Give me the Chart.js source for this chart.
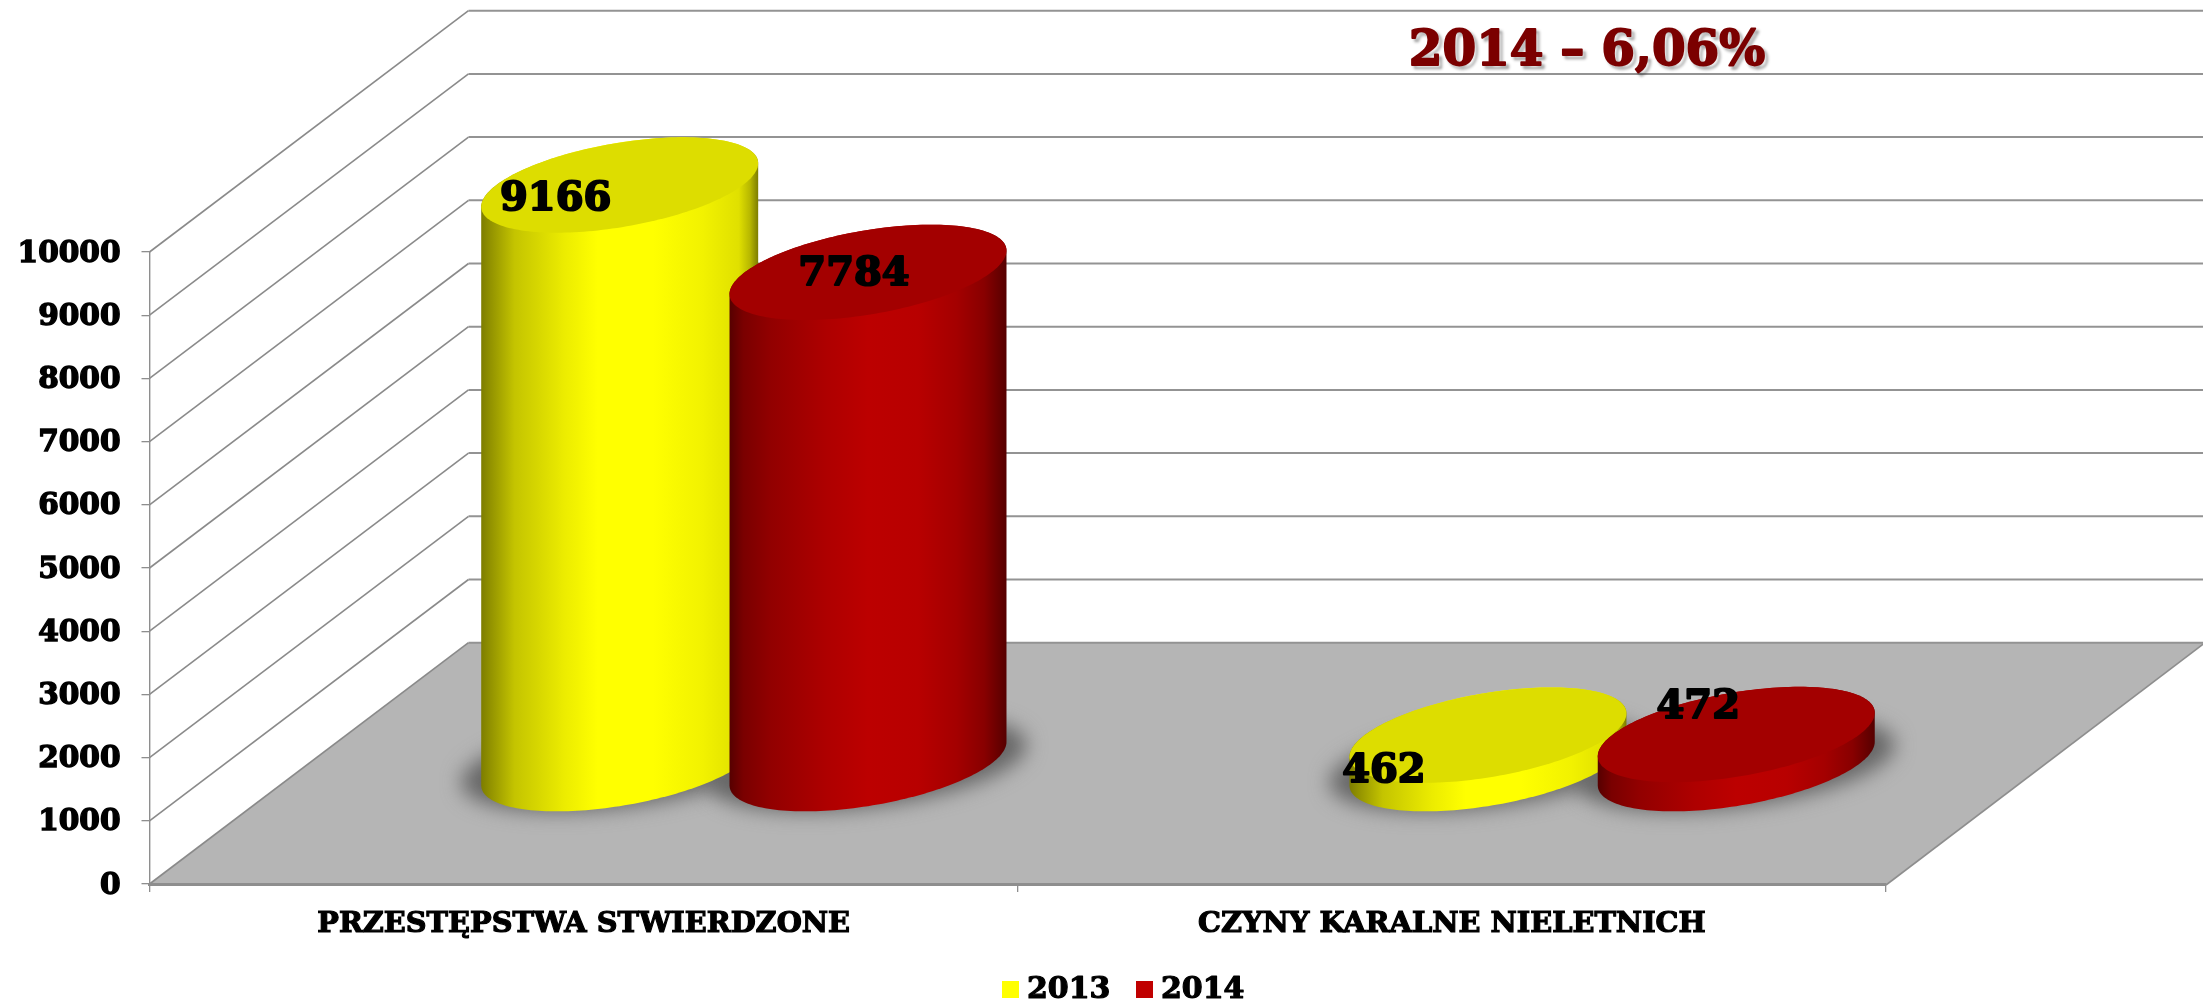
<!DOCTYPE html>
<html>
<head>
<meta charset="utf-8">
<style>html,body{margin:0;padding:0;background:#fff}canvas{display:block}</style>
<script src="https://cdn.jsdelivr.net/npm/chart.js@4"></script>
</head>
<body>
<canvas id="c" width="2203" height="1001"></canvas>
<script>
const categories = ['PRZESTĘPSTWA STWIERDZONE', 'CZYNY KARALNE NIELETNICH'];
const series2013 = [9166, 462];
const series2014 = [7784, 472];
const seriesNames = ['2013', '2014'];
const annotationText = '2014 – 6,06%';

const FONT = '"DejaVu Serif"';
const DEPTH = {dx: 319, dy: 241.3};      // oblique projection of the floor
const RADIUS = 0.1977;                   // cylinder depth radius, as share of floor depth
const FILL_CENTRE = 0.496;
// value label shifts from the cylinder's top centre, per dataset / category
const LABEL_SHIFT = [[[-64, 15], [-104, 36]], [[-14, 2], [-38, -27]]];
const STYLES = [
  {top: '#dddd00', stops: [[0,'#7d7d00'],[.03,'#909000'],[.12,'#c4c400'],[.3,'#ecec00'],[.42,'#ffff00'],[.62,'#ffff00'],[.8,'#f2f200'],[.93,'#e0e000'],[.97,'#b8b800'],[1,'#7d7d00']]},
  {top: '#a30000', stops: [[0,'#560000'],[.05,'#7a0000'],[.15,'#920000'],[.35,'#ae0000'],[.5,'#bc0000'],[.68,'#b80000'],[.82,'#a40000'],[.92,'#880000'],[1,'#560000']]}
];

function ellipsePoint(cx, cy, a, t) {
  return [cx + a * Math.cos(t) + RADIUS * DEPTH.dx * Math.sin(t), cy - RADIUS * DEPTH.dy * Math.sin(t)];
}
function traceEllipse(ctx, cx, cy, a) {
  ctx.beginPath();
  for (let i = 0; i < 180; i++) {
    const p = ellipsePoint(cx, cy, a, i / 180 * 2 * Math.PI);
    i ? ctx.lineTo(p[0], p[1]) : ctx.moveTo(p[0], p[1]);
  }
  ctx.closePath();
}
function cylinders(chart, fn) {
  chart.data.datasets.forEach((ds, d) => {
    chart.getDatasetMeta(d).data.forEach((bar, i) => {
      const cx = bar.x + FILL_CENTRE * DEPTH.dx + 2;
      const baseY = bar.base - FILL_CENTRE * DEPTH.dy;
      const topY = bar.y - FILL_CENTRE * DEPTH.dy;
      fn({d, i, cx, baseY, topY, a: bar.width / 2, value: ds.data[i]});
    });
  });
}

const room = {
  id: 'room',
  beforeDraw(chart) {
    const {ctx, scales: {x, y}} = chart;
    const l = x.left, r = x.right, b = y.getPixelForValue(0);
    ctx.save();
    ctx.fillStyle = '#b5b5b5';
    ctx.beginPath();
    ctx.moveTo(l, b); ctx.lineTo(r, b + 1);
    ctx.lineTo(r + DEPTH.dx, b - DEPTH.dy); ctx.lineTo(l + DEPTH.dx, b - DEPTH.dy);
    ctx.closePath(); ctx.fill();
    ctx.strokeStyle = '#8e8e8e';
    ctx.lineWidth = 1.6;
    ctx.beginPath();
    ctx.moveTo(r, b + 1); ctx.lineTo(r + DEPTH.dx, b - DEPTH.dy);
    ctx.stroke();
    y.ticks.forEach(t => {
      const py = y.getPixelForValue(t.value);
      ctx.strokeStyle = '#8a8a8a';
      ctx.lineWidth = 1.6;
      ctx.beginPath();
      ctx.moveTo(l, py); ctx.lineTo(l + DEPTH.dx, py - DEPTH.dy);
      ctx.stroke();
      ctx.strokeStyle = '#939393';
      ctx.lineWidth = 2;
      ctx.beginPath();
      ctx.moveTo(l + DEPTH.dx, py - DEPTH.dy); ctx.lineTo(2203, py - DEPTH.dy);
      ctx.stroke();
    });
    ctx.restore();
  },
  afterDatasetsDraw(chart) {
    const {ctx} = chart;
    ctx.save();
    // soft contact shadows on the floor
    ctx.save();
    ctx.filter = 'blur(10px)';
    ctx.fillStyle = '#666666';
    cylinders(chart, c => {
      traceEllipse(ctx, c.cx, c.baseY, c.a * 1.18);
      ctx.fill();
    });
    ctx.restore();
    // cylinder bodies, tops and lids
    cylinders(chart, c => {
      const rx = RADIUS * DEPTH.dx;
      const t0 = Math.atan2(rx, c.a);
      const half = Math.hypot(c.a, rx);
      const g = ctx.createLinearGradient(c.cx - half, 0, c.cx + half, 0);
      STYLES[c.d].stops.forEach(s => g.addColorStop(s[0], s[1]));
      ctx.beginPath();
      for (let i = 0; i <= 90; i++) {
        const p = ellipsePoint(c.cx, c.baseY, c.a, t0 - i / 90 * Math.PI);
        i ? ctx.lineTo(p[0], p[1]) : ctx.moveTo(p[0], p[1]);
      }
      for (let i = 0; i <= 90; i++) {
        const p = ellipsePoint(c.cx, c.topY, c.a, t0 - Math.PI - i / 90 * Math.PI);
        ctx.lineTo(p[0], p[1]);
      }
      ctx.closePath();
      ctx.fillStyle = g;
      ctx.fill();
      traceEllipse(ctx, c.cx, c.topY, c.a);
      ctx.fillStyle = STYLES[c.d].top;
      ctx.fill();
    });
    // value labels
    ctx.fillStyle = '#000';
    ctx.strokeStyle = '#000';
    ctx.lineWidth = 2;
    ctx.lineJoin = 'round';
    ctx.font = 'bold 40px ' + FONT;
    ctx.textAlign = 'center';
    ctx.textBaseline = 'middle';
    cylinders(chart, c => {
      const s = LABEL_SHIFT[c.d][c.i];
      ctx.strokeText(String(c.value), c.cx + s[0], c.topY + s[1]);
      ctx.fillText(String(c.value), c.cx + s[0], c.topY + s[1]);
    });
    // annotation
    ctx.save();
    ctx.font = 'bold 48.4px ' + FONT;
    ctx.fillStyle = '#7b0000';
    ctx.strokeStyle = '#7b0000';
    ctx.lineWidth = 1.8;
    ctx.shadowColor = 'rgba(0,0,0,0.45)';
    ctx.shadowBlur = 3; ctx.shadowOffsetX = 3; ctx.shadowOffsetY = 3;
    ctx.strokeText(annotationText, 1587, 52);
    ctx.shadowColor = 'transparent';
    ctx.fillText(annotationText, 1587, 52);
    ctx.restore();
    // legend
    ctx.font = 'bold 30px ' + FONT;
    ctx.textAlign = 'left';
    ctx.lineWidth = 1.2;
    const lx = [1002, 1136];
    chart.data.datasets.forEach((ds, d) => {
      ctx.fillStyle = ds.legendColor;
      ctx.fillRect(lx[d], 981, 17, 17);
      ctx.fillStyle = '#000';
      ctx.strokeText(ds.label, lx[d] + 25, 990);
      ctx.fillText(ds.label, lx[d] + 25, 990);
    });
    ctx.restore();
  }
};

new Chart(document.getElementById('c'), {
  type: 'bar',
  plugins: [room],
  data: {
    labels: categories,
    datasets: [
      {label: seriesNames[0], data: series2013, backgroundColor: 'transparent', legendColor: '#ffff00', categoryPercentage: 0.572, barPercentage: 0.993},
      {label: seriesNames[1], data: series2014, backgroundColor: 'transparent', legendColor: '#c00000', categoryPercentage: 0.572, barPercentage: 0.993}
    ]
  },
  options: {
    responsive: false,
    animation: false,
    layout: {padding: {left: 0, top: 252, right: 317, bottom: 0}},
    plugins: {legend: {display: false}, title: {display: false}, tooltip: {enabled: false}},
    scales: {
      x: {
        afterFit(s) { s.height = 117; },
        grid: {drawOnChartArea: false, tickLength: 8, color: '#8e8e8e', lineWidth: 1.3},
        border: {color: '#8e8e8e', width: 3},
        ticks: {color: '#000', textStrokeColor: '#000', textStrokeWidth: 1.2, maxRotation: 0, autoSkip: false, padding: 15, font: {family: FONT, weight: 'bold', size: 28.8}}
      },
      y: {
        min: 0, max: 10000,
        afterFit(s) { s.width = 149.5; },
        grid: {drawOnChartArea: false, tickLength: 8, color: '#8e8e8e', lineWidth: 1.3},
        border: {color: '#8e8e8e', width: 1.4},
        ticks: {stepSize: 1000, labelOffset: 2, color: '#000', textStrokeColor: '#000', textStrokeWidth: 1.4, padding: 21, callback: v => String(v), font: {family: FONT, weight: 'bold', size: 29.6}}
      }
    }
  }
});
</script>
</body>
</html>
